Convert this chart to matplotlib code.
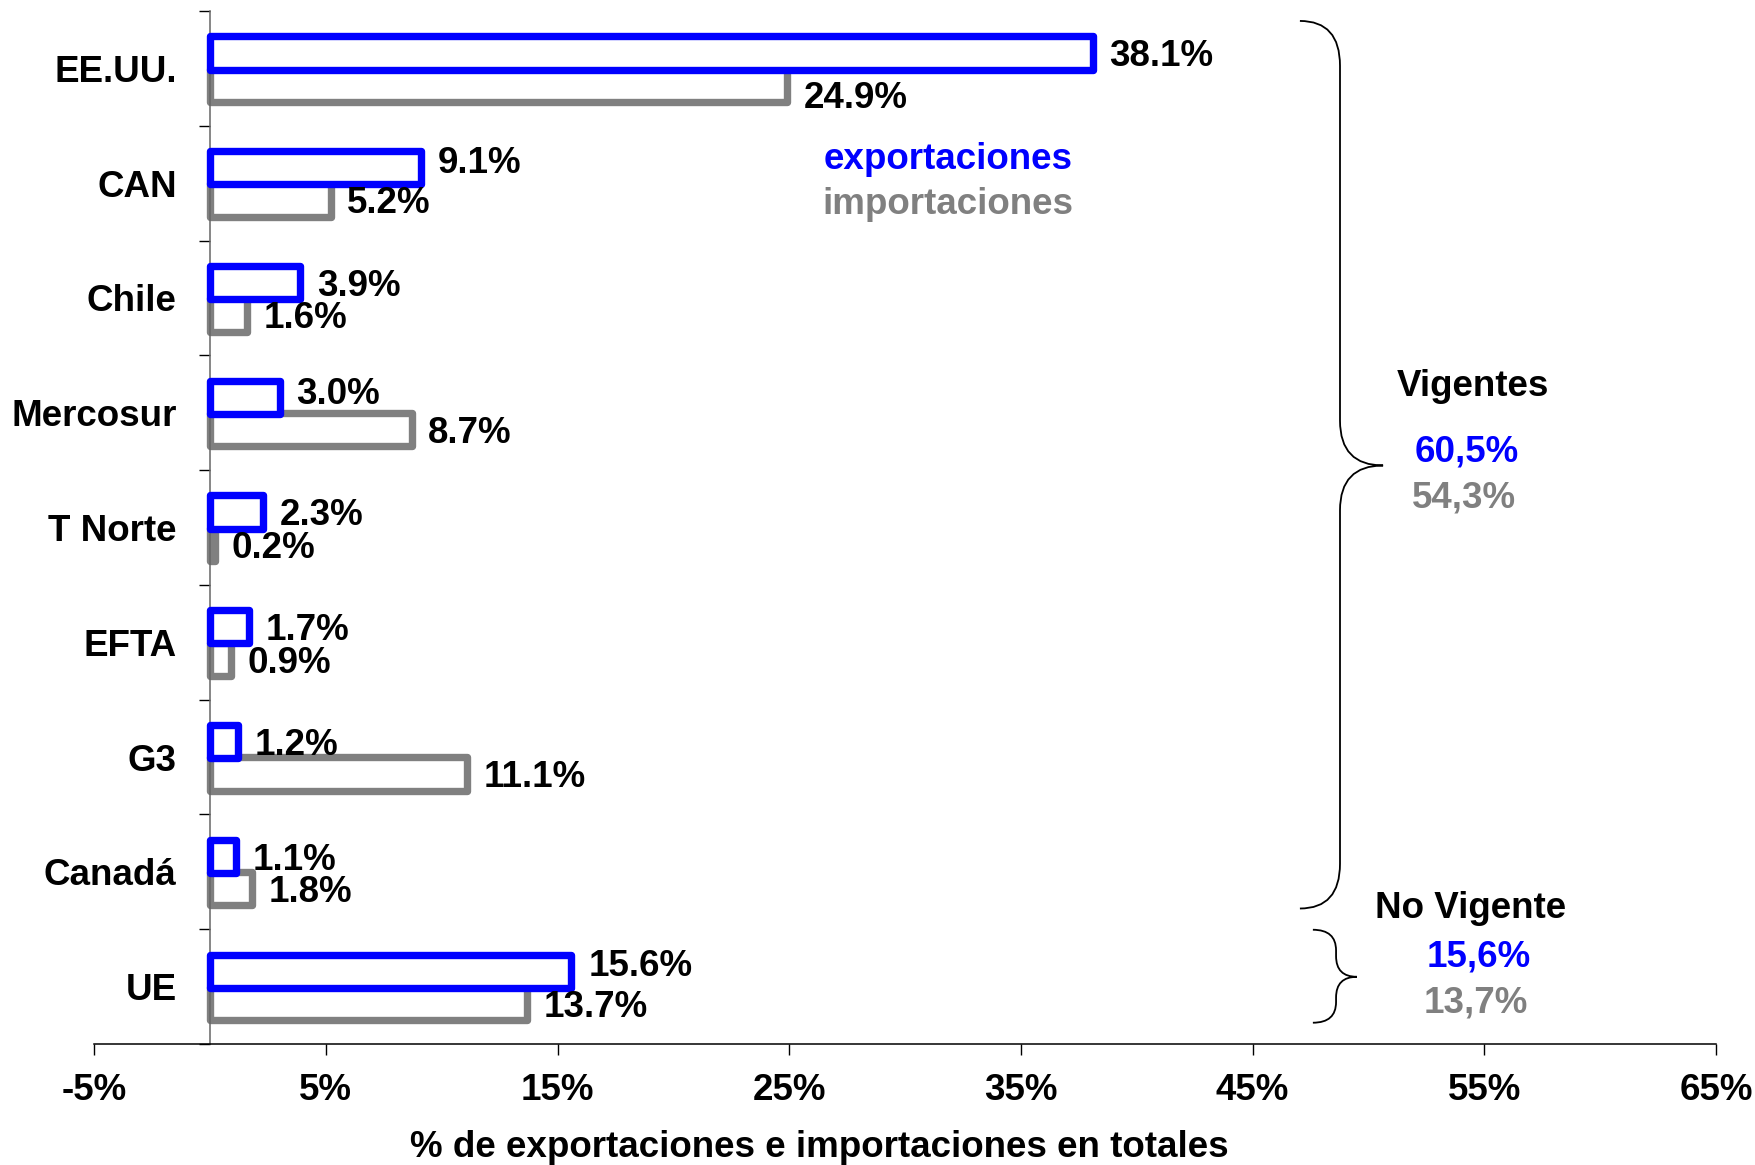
import numpy as np
import matplotlib
matplotlib.use("Agg")
import matplotlib.pyplot as plt
from matplotlib.path import Path
from matplotlib.patches import PathPatch
from matplotlib.ticker import FuncFormatter

plt.rcParams['font.family'] = ['Liberation Sans', 'DejaVu Sans']
plt.rcParams['font.weight'] = 'bold'

# data
regions = ["EE.UU.", "CAN", "Chile", "Mercosur", "T Norte", "EFTA", "G3", "Canadá", "UE"]
export_share = [38.1, 9.1, 3.9, 3.0, 2.3, 1.7, 1.2, 1.1, 15.6]
import_share = [24.9, 5.2, 1.6, 8.7, 0.2, 0.9, 11.1, 1.8, 13.7]
group_names = ["Vigentes", "No Vigente"]
group_export = [60.5, 15.6]
group_import = [54.3, 13.7]
x_ticks = [-5, 5, 15, 25, 35, 45, 55, 65]

BLUE = '#0000ff'
GRAY = '#808080'
FS = 26.5

# small hand nudges for value labels (points, + is up)
blue_nudge = [0, 5.6, 0, 4.8, 0, 0, 0, 0, 6.5]
gray_nudge = [-6.5, 0, 0, 0, 0, 0, 0, 0, 0]
base_dy = -2.8

fig = plt.figure(figsize=(17.56, 11.65), dpi=100)
ax = fig.add_axes([0.05364, 0.1039, 0.9236, 0.8867])

y = np.arange(len(regions))
h = 0.29
ax.barh(y + 0.148, import_share, height=h, facecolor='white', edgecolor=GRAY,
        linewidth=5.3, joinstyle='round', zorder=2)
ax.barh(y - 0.134, export_share, height=h, facecolor='white', edgecolor=BLUE,
        linewidth=5.3, joinstyle='round', zorder=3)

for i in range(len(regions)):
    ax.annotate(f"{export_share[i]:.1f}%", (export_share[i], y[i] - 0.134),
                xytext=(12, blue_nudge[i] + base_dy), textcoords='offset points',
                ha='left', va='center', fontsize=FS, fontweight='bold', zorder=5)
    ax.annotate(f"{import_share[i]:.1f}%", (import_share[i], y[i] + 0.148),
                xytext=(12, gray_nudge[i] + base_dy), textcoords='offset points',
                ha='left', va='center', fontsize=FS, fontweight='bold', zorder=5)

ax.set_xlim(-5, 65)
ax.set_ylim(len(regions) - 0.5, -0.5)

for s in ['top', 'right']:
    ax.spines[s].set_visible(False)
ax.spines['left'].set_position(('data', 0))
ax.spines['left'].set_color('#666666')
ax.spines['left'].set_linewidth(1.1)
ax.spines['bottom'].set_linewidth(1.1)

ax.set_xticks(x_ticks)
ax.xaxis.set_major_formatter(FuncFormatter(lambda v, p: f"{v:.0f}%"))
ax.tick_params(axis='x', length=8, width=1, pad=13, labelsize=FS)

ax.set_yticks(y)
ax.set_yticklabels(regions)
ax.set_yticks(np.arange(len(regions) + 1) - 0.5, minor=True)
ax.tick_params(axis='y', which='major', length=0, pad=24, labelsize=FS)
ax.tick_params(axis='y', which='minor', length=8, width=1)
for lab in ax.get_xticklabels() + ax.get_yticklabels():
    lab.set_fontweight('bold')

ax.set_xlabel("% de exportaciones e importaciones en totales", fontsize=FS,
              fontweight='bold', va='center')
ax.xaxis.set_label_coords(0.447, -0.1)

# legend as plain text
ax.text(37.25, 0.79, "exportaciones", color=BLUE, ha='right', va='center',
        fontsize=FS, fontweight='bold')
ax.text(37.25, 1.19, "importaciones", color=GRAY, ha='right', va='center',
        fontsize=FS, fontweight='bold')


def brace(x0, xv, xt, y_top, y_tip, y_bot, r):
    verts = [(x0, y_top), (xv, y_top), (xv, y_top + r),
             (xv, y_tip - r), (xv, y_tip), (xt, y_tip),
             (xv, y_tip), (xv, y_tip + r),
             (xv, y_bot - r), (xv, y_bot), (x0, y_bot)]
    codes = [Path.MOVETO, Path.CURVE3, Path.CURVE3,
             Path.LINETO, Path.CURVE3, Path.CURVE3,
             Path.CURVE3, Path.CURVE3,
             Path.LINETO, Path.CURVE3, Path.CURVE3]
    ax.add_patch(PathPatch(Path(verts, codes), fill=False, edgecolor='black',
                           linewidth=1.3, clip_on=False))


brace(47.04, 48.77, 50.63, -0.413, 3.46, 7.32, 0.39)
brace(47.6, 48.6, 49.5, 7.505, 7.915, 8.315, 0.18)

# group totals
ax.text(54.5, 2.77, group_names[0], ha='center', va='center', fontsize=FS, fontweight='bold')
ax.text(54.26, 3.34, f"{group_export[0]:.1f}%".replace('.', ','), color=BLUE,
        ha='center', va='center', fontsize=FS, fontweight='bold')
ax.text(54.12, 3.74, f"{group_import[0]:.1f}%".replace('.', ','), color=GRAY,
        ha='center', va='center', fontsize=FS, fontweight='bold')
ax.text(54.4, 7.32, group_names[1], ha='center', va='center', fontsize=FS, fontweight='bold')
ax.text(54.74, 7.74, f"{group_export[1]:.1f}%".replace('.', ','), color=BLUE,
        ha='center', va='center', fontsize=FS, fontweight='bold')
ax.text(54.65, 8.14, f"{group_import[1]:.1f}%".replace('.', ','), color=GRAY,
        ha='center', va='center', fontsize=FS, fontweight='bold')

fig.savefig("out.png", dpi=100)
